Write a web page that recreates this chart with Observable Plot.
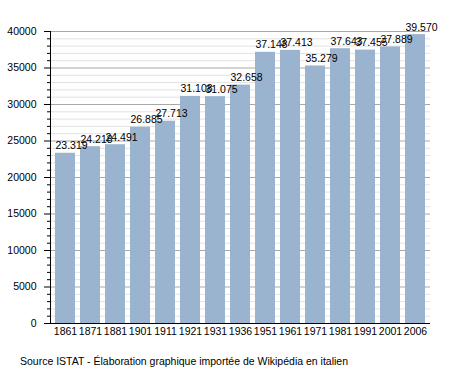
<!DOCTYPE html>
<html>
<head>
<meta charset="utf-8">
<script src="https://cdn.jsdelivr.net/npm/d3@7"></script>
<script src="https://cdn.jsdelivr.net/npm/@observablehq/plot@0.6"></script>
<style>
  body { margin: 0; background: #fff; font-family: "Liberation Sans", Arial, sans-serif; }
  #caption { position: absolute; left: 20px; top: 355px; font-size: 10.5px; color: #000; }
</style>
</head>
<body>
<div id="chart"></div>
<div id="caption">Source ISTAT - Élaboration graphique importée de Wikipédia en italien</div>
<script>
const years = ["1861","1871","1881","1901","1911","1921","1931","1936","1951","1961","1971","1981","1991","2001","2006"];
const population = [23319,24218,24491,26885,27713,31108,31075,32658,37148,37413,35279,37643,37455,37889,39570];
const majorTicks = [0,5000,10000,15000,20000,25000,30000,35000,40000];
const minorTicks = d3.range(1000,40000,1000).filter(v => v % 5000 !== 0);

const data = years.map((y,i) => ({year: y, pop: population[i]}));
const fmt = v => d3.format(",")(v).replace(/,/g, ".");

const chart = Plot.plot({
  width: 458,
  height: 345,
  marginLeft: 50,
  marginRight: 28,
  marginTop: 31,
  marginBottom: 22,
  style: {fontFamily: '"Liberation Sans", Arial, sans-serif', fontSize: "10.5px", color: "#000", background: "#fff"},
  x: {type: "band", domain: years, paddingInner: 0.22, paddingOuter: 0, label: null},
  y: {domain: [0, 40000], label: null},
  marks: [
    Plot.ruleY(minorTicks, {stroke: "#e2e2e2"}),
    Plot.ruleY(majorTicks, {stroke: "#a8a8a8"}),
    Plot.barY(data, {x: "year", y: "pop", fill: "#9ab3cf"}),
    Plot.axisY({ticks: minorTicks, tickSize: 3, text: null, stroke: "#000", strokeOpacity: 1}),
    Plot.axisY({ticks: majorTicks, tickSize: 6, tickPadding: 8, tickFormat: d => String(d), stroke: "#000", strokeOpacity: 1, fill: "#000"}),
    Plot.axisX({tickSize: 0, tickPadding: 4, fill: "#000"}),
    Plot.ruleY([0], {stroke: "#000"}),
    Plot.frame({anchor: "left", stroke: "#000"}),
    Plot.text(data, {x: "year", y: "pop", text: d => fmt(d.pop), textAnchor: "start", lineAnchor: "bottom", dx: -10, dy: -4, fill: "#000"})
  ]
});
document.getElementById("chart").appendChild(chart);
</script>
</body>
</html>
